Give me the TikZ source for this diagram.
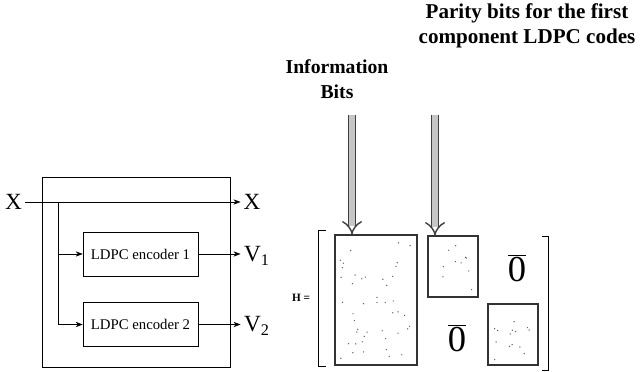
\documentclass[tikz,border=0pt]{standalone}
\usepackage{fontspec}
\setmainfont{Liberation Serif}
\usetikzlibrary{arrows.meta,positioning}

\tikzset{
 encbox/.style={draw, minimum width=2.875cm, minimum height=1.1cm, inner sep=0pt, font=\fontsize{10.5}{12}\selectfont},
 sig/.style={font=\fontsize{16.5}{18}\selectfont, inner sep=2pt},
 blk/.style={draw, gray!40!black, thick, inner sep=0pt},
 bigarrow/.style={double=gray!45, double distance=4pt, gray!50!black, line width=1pt, -{Implies}},
 lbl/.style={font=\bfseries\fontsize{14}{18}\selectfont, align=center},
 zero/.style={font=\fontsize{26}{28}\selectfont}
}

\begin{document}
\begin{tikzpicture}
\useasboundingbox (0,0) rectangle (16.1,9.3);

% encoder side
\draw (1.05,0.125) rectangle (5.75,4.875);
\node[sig] (xin) at (0.34,4.25) {X};
\node[sig] (xout) at (6.3,4.25) {X};
\node[encbox] (enc1) at (3.5125,2.95) {LDPC encoder 1};
\node[encbox] (enc2) at (3.5125,1.1875) {LDPC encoder 2};
\node[sig] (v1) at (6.42,2.9) {V\textsubscript{1}};
\node[sig] (v2) at (6.42,1.15) {V\textsubscript{2}};
\coordinate (br) at (1.45,4.25);
\coordinate (br1) at (br |- enc1.west);

\draw[-{Stealth[length=5pt]}] (xin) -- (xout);
\draw[-{Stealth[length=5pt]}] (br) |- (enc2.west);
\draw[-{Stealth[length=5pt]}] (br1) -- (enc1.west);
\draw[-{Stealth[length=5pt]}] (enc1.east) -- (enc1.east -| xout.west);
\draw[-{Stealth[length=5pt]}] (enc2.east) -- (enc2.east -| xout.west);

% parity check matrix
\node[font=\bfseries\fontsize{8}{9}\selectfont] (H) at (7.525,1.85) {H =};
\draw (8.15,3.55) -- (7.95,3.55) -- (7.95,0.15) -- (8.15,0.15);
\draw (13.55,3.4) -- (13.7,3.4) -- (13.7,0.05) -- (13.55,0.05);

\node[blk, minimum width=2.05cm, minimum height=3.25cm] (info) at (9.4,1.8) {};
\node[blk, minimum width=1.25cm, minimum height=1.525cm] (par1) at (11.325,2.6375) {};
\node[blk, minimum width=1.25cm, minimum height=1.525cm] (par2) at (12.825,0.9375) {};

\node[zero] (z1) at (12.925,2.6) {$\overline{\mbox{0}}$};
\node[zero] (z2) at (11.425,0.85) {$\overline{\mbox{0}}$};

% sparse entries
\pgfmathsetseed{11}
\foreach \i in {1,...,45}
  \fill[gray!70!black] ({8.5+1.8*rnd},{0.3+3.0*rnd}) circle (0.5pt);
\foreach \i in {1,...,10}
  \fill[gray!70!black] ({10.85+0.95*rnd},{2.0+1.25*rnd}) circle (0.5pt);
\foreach \i in {1,...,14}
  \fill[gray!70!black] ({12.35+0.95*rnd},{0.3+1.25*rnd}) circle (0.5pt);

% labels and arrows
\node[lbl] (infolbl) at (8.425,7.325) {Information\\Bits};
\node[lbl, font=\bfseries\fontsize{15}{18}\selectfont] (parlbl) at (13.175,8.65) {Parity bits for the first\\component LDPC codes};
\coordinate (ia) at (8.8,6.425);
\coordinate (pa) at (10.875,6.425);
\draw[bigarrow] (ia) -- (ia |- info.north);
\draw[bigarrow] (pa) -- (pa |- par1.north);
\end{tikzpicture}
\end{document}
